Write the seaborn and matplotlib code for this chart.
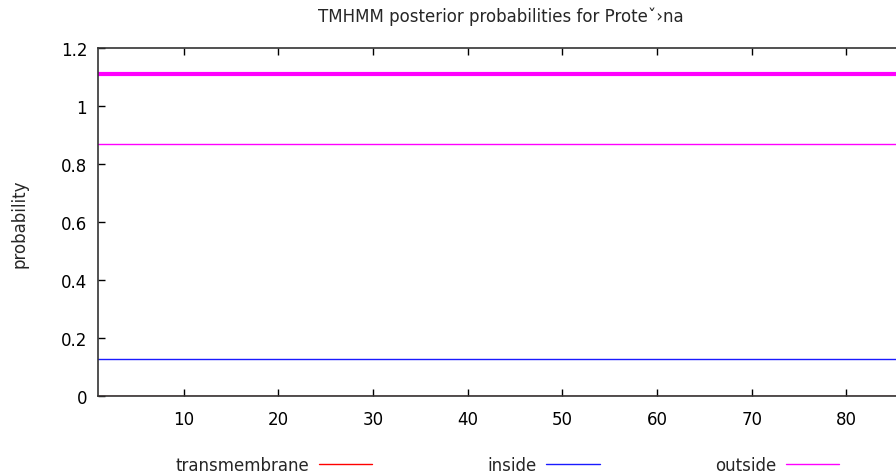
import matplotlib
matplotlib.use("Agg")
import matplotlib.pyplot as plt
import seaborn as sns
import pandas as pd

# Data (segment end positions and constant probabilities)
positions = [1, 86]
transmembrane = [0.0, 0.0]
inside = [0.13, 0.13]
outside = [0.87, 0.87]
topology_outside = [1.11, 1.11]  # thick predicted-topology bar

x_ticks = [10, 20, 30, 40, 50, 60, 70, 80]
y_ticks = [0, 0.2, 0.4, 0.6, 0.8, 1.0, 1.2]
y_ticklabels = ["0", "0.2", "0.4", "0.6", "0.8", "1", "1.2"]

sns.set_style("ticks")
plt.rcParams['font.family'] = ['DejaVu Sans']
plt.rcParams['font.size'] = 12

df = pd.DataFrame({
    "position": positions,
    "transmembrane": transmembrane,
    "inside": inside,
    "outside": outside,
    "topo": topology_outside,
})

fig = plt.figure(figsize=(8.96, 4.77), dpi=100)
ax = fig.add_axes([98.3 / 896, 1 - 397.3 / 477, 805 / 896, 348 / 477])

sns.lineplot(data=df, x="position", y="topo", ax=ax, color="#ff00ff", lw=3.0, label="_nolegend_")
sns.lineplot(data=df, x="position", y="transmembrane", ax=ax, color="#ff0000", lw=1.0, label="transmembrane", zorder=1)
sns.lineplot(data=df, x="position", y="inside", ax=ax, color="#1a1aff", lw=1.0, label="inside")
sns.lineplot(data=df, x="position", y="outside", ax=ax, color="#ff00ff", lw=1.0, label="outside")

ax.set_xlim(1, 86)
ax.set_ylim(0, 1.2)
ax.set_xticks(x_ticks)
ax.set_xticklabels([str(t) for t in x_ticks])
ax.set_yticks(y_ticks)
ax.set_yticklabels(y_ticklabels)
ax.tick_params(direction="in", length=5, width=1, colors="black", labelsize=12,
               top=True, right=False, pad=8)
ax.tick_params(axis="x", pad=10)
for s in ax.spines.values():
    s.set_color("#333333")
    s.set_linewidth(1.2)
    s.set_zorder(5)
ax.spines["right"].set_visible(False)

ax.set_xlabel("")
ax.set_ylabel("probability", fontsize=12, labelpad=23)
ax.set_title("TMHMM posterior probabilities for Prote\u02c7\u203ana", fontsize=12, pad=19.5)

leg = ax.legend(loc="upper left", bbox_to_anchor=(61.7 / 805, -0.129), ncol=3,
                markerfirst=False, frameon=False, handlelength=3.2,
                columnspacing=6.9, handletextpad=0.6, fontsize=12)

fig.savefig("out.png", dpi=100)
